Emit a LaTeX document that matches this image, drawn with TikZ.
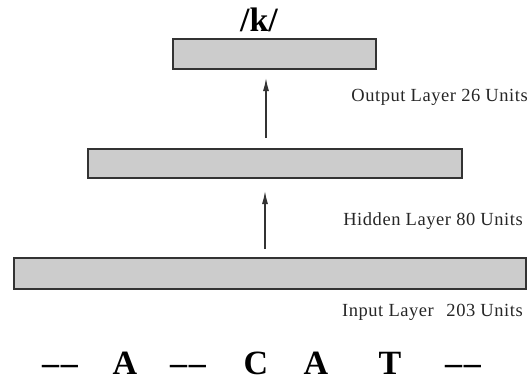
\documentclass[tikz,border=0pt]{standalone}
\usepackage{fontspec}
\setmainfont{Liberation Serif}
\usetikzlibrary{arrows.meta}
\begin{document}
\begin{tikzpicture}[x=1pt,y=-1pt,
  layer/.style={draw=black!80,fill=black!20,line width=1.5pt,inner sep=0pt,anchor=north west},
  lbl/.style={font=\fontsize{18.5}{20}\selectfont\addfontfeatures{LetterSpace=3},inner sep=0pt,anchor=base east,text=black!85},
  sym/.style={font=\fontsize{34}{36}\selectfont\bfseries,inner sep=0pt,anchor=base},
  arr/.style={-{Latex[length=13pt,width=6pt]},line width=1.3pt,draw=black!80}]
\useasboundingbox (0,0) rectangle (530,381);
\node[layer,minimum width=203pt,minimum height=30pt] (out) at (172,38) {};
\node[layer,minimum width=374pt,minimum height=29pt] (hid) at (87,148) {};
\node[layer,minimum width=512pt,minimum height=31pt] (inp) at (13,257) {};
\node[font=\fontsize{34}{36}\selectfont\bfseries,inner sep=0pt,anchor=base] (k) at (259,31) {/k/};
\coordinate (a1s) at (266,138);
\coordinate (a1e) at (266,78);
\coordinate (a2s) at (265,249);
\coordinate (a2e) at (265,191);
\draw[arr] (a1s) -- (a1e);
\draw[arr] (a2s) -- (a2e);
\node[lbl] (lo) at (528,101) {Output Layer 26 Units};
\node[lbl] (lh) at (523,225) {Hidden Layer 80 Units};
\node[lbl] (li) at (523,316) {Input Layer\hspace{0.4em} 203 Units};
\node[sym] (s1) at (60,374) {\textendash\kern2pt\textendash};
\node[sym] (s2) at (125,374) {A};
\node[sym] (s3) at (188,374) {\textendash\kern2pt\textendash};
\node[sym] (s4) at (256,374) {C};
\node[sym] (s5) at (316,374) {A};
\node[sym] (s6) at (390,374) {T};
\node[sym] (s7) at (463,374) {\textendash\kern2pt\textendash};
\end{tikzpicture}
\end{document}
